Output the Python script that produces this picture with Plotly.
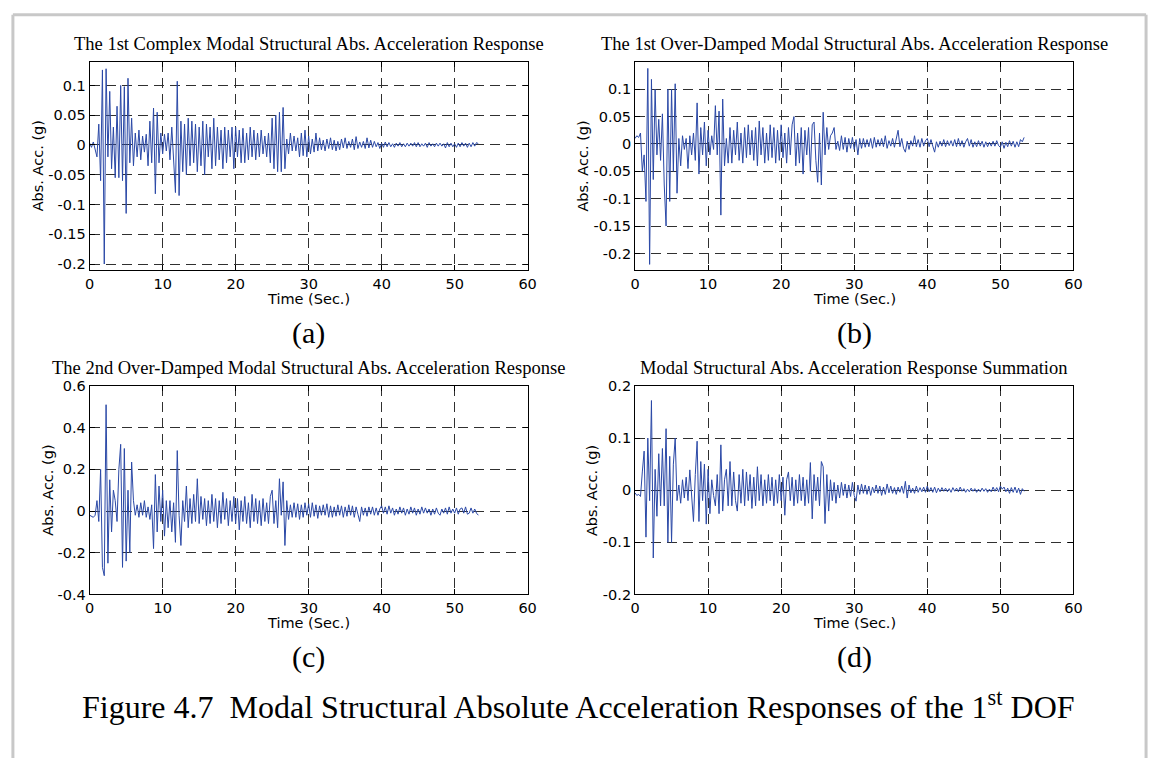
import numpy as np
import plotly.graph_objects as go

# sampling step of the digitised records (seconds)
DT = 0.25

# ---- (a) 1st complex modal response, values read per 0.25 s (4 per second)
acc_a = [
    0.003, -0.004, 0.005, -0.006,
    -0.02, 0.035, -0.06, 0.126,
    -0.2, 0.128, -0.02, 0.09,
    -0.04, 0.03, -0.055, 0.065,
    -0.055, 0.1, -0.06, 0.098,
    -0.115, 0.112, -0.03, 0.045,
    -0.035, 0.02, -0.02, 0.025,
    -0.025, 0.015, -0.012, 0.018,
    -0.035, 0.04, -0.03, 0.062,
    -0.082, 0.055, -0.03, 0.02,
    -0.015, 0.018, -0.01, 0.02,
    -0.025, 0.03, -0.02, -0.08,
    0.107, -0.085, 0.04, -0.045,
    0.035, -0.05, 0.045, -0.035,
    0.04, -0.03, 0.035, -0.045,
    0.03, -0.035, 0.04, -0.05,
    0.035, -0.02, 0.03, -0.04,
    0.045, -0.035, 0.03, -0.025,
    0.025, -0.04, 0.03, -0.03,
    0.025, -0.02, 0.03, -0.04,
    0.03, -0.02, 0.025, -0.03,
    0.028, -0.03, 0.02, -0.025,
    0.03, -0.02, 0.025, -0.025,
    0.02, -0.02, 0.025, -0.015,
    0.015, -0.02, 0.02, -0.03,
    0.045, -0.04, 0.05, -0.045,
    0.055, -0.045, 0.063, -0.04,
    0.01, -0.015, 0.02, -0.01,
    0.015, -0.01, 0.012, -0.02,
    0.02, -0.018, 0.025, -0.02,
    0.015, -0.015, 0.01, -0.012,
    0.02, -0.01, 0.012, -0.008,
    0.008, -0.01, 0.01, -0.006,
    0.012, -0.008, 0.008, -0.01,
    0.006, -0.008, 0.01, -0.005,
    0.012, -0.006, 0.006, -0.004,
    0.01, -0.008, 0.014, -0.006,
    0.005, -0.004, 0.006, -0.006,
    0.012, -0.005, 0.008, -0.004,
    0.006, -0.003, 0.004, -0.006,
    0.003, -0.004, 0.005, -0.003,
    0.004, -0.003, 0.002, -0.004,
    0.003, -0.002, 0.004, -0.003,
    0.002, -0.003, 0.003, -0.002,
    0.003, -0.002, 0.004, -0.003,
    0.004, -0.003, 0.002, -0.002,
    0.003, -0.004, 0.004, -0.002,
    0.002, -0.003, 0.003, -0.002,
    0.003, -0.002, 0.002, -0.005,
    0.004, -0.003, 0.003, -0.003,
    0.002, -0.004, 0.003, -0.003,
    0.004, -0.002, 0.003, -0.004,
    0.003, -0.003, 0.004, -0.002,
    0.004, 0.002,
]

# ---- (b) 1st over-damped modal response
acc_b = [
    0.01, 0.015, 0.012, 0.02,
    -0.05, -0.02, -0.105, 0.138,
    -0.22, 0.118, -0.065, 0.1,
    -0.02, 0.045, -0.03, 0.055,
    -0.075, -0.15, 0.1, -0.105,
    0.1, -0.05, 0.11, -0.09,
    0.01, -0.04, 0.015, -0.01,
    0.01, -0.045, 0.015, -0.02,
    0.02, -0.03, 0.075, -0.055,
    0.03, -0.02, 0.04, -0.04,
    0.025, -0.02, 0.015, -0.01,
    0.07, -0.02, 0.06, -0.13,
    0.082, -0.04, 0.01, -0.035,
    0.03, -0.035, 0.025, -0.02,
    0.04, -0.03, 0.02, -0.035,
    0.03, -0.025, 0.035, -0.02,
    0.025, -0.03, 0.03, -0.04,
    0.042, -0.02, 0.03, -0.035,
    0.02, -0.03, 0.035, -0.025,
    0.03, -0.035, 0.025, -0.03,
    0.035, -0.025, 0.02, -0.035,
    0.03, -0.02, 0.035, 0.05,
    -0.04, 0.02, -0.035, 0.03,
    -0.055, 0.025, -0.02, 0.03,
    -0.05, 0.035, 0.04, -0.03,
    -0.07, 0.02, -0.075, 0.058,
    -0.02, 0.03, -0.01, 0.015,
    0.02, 0.03, -0.01, 0.005,
    -0.012, 0.015, -0.01, 0.012,
    -0.015, 0.01, -0.008, 0.012,
    -0.01, 0.008, -0.02, 0.01,
    -0.008, 0.01, -0.006, 0.008,
    -0.005, 0.01, -0.008, 0.012,
    -0.006, 0.008, -0.004, 0.01,
    -0.005, 0.015, -0.008, 0.006,
    -0.004, 0.01, -0.006, 0.008,
    0.025, -0.005, 0.01, -0.008,
    -0.015, 0.005, -0.01, 0.006,
    -0.004, 0.015, -0.005, 0.008,
    -0.006, 0.01, -0.004, 0.006,
    0.01, -0.005, 0.008, -0.004,
    -0.015, 0.004, -0.006, 0.005,
    -0.004, 0.008, -0.005, 0.006,
    -0.003, 0.006, -0.004, 0.008,
    -0.005, 0.01, -0.004, 0.006,
    -0.006, 0.004, 0.01, -0.004,
    0.008, -0.006, 0.004, -0.005,
    0.006, -0.004, 0.005, -0.006,
    0.004, -0.005, 0.003, -0.004,
    0.005, -0.004, 0.006, -0.003,
    -0.006, 0.004, -0.008, 0.003,
    -0.005, 0.006, -0.004, 0.005,
    -0.006, 0.004, -0.005, 0.008,
    0.004, 0.012,
]

# ---- (c) 2nd over-damped modal response
acc_c = [
    -0.02, -0.025, -0.03, -0.02,
    0.05, -0.05, 0.2, -0.27,
    -0.31, 0.51, -0.25, 0.15,
    -0.1, 0.1, 0.05, -0.05,
    0.2, 0.32, -0.27, 0.3,
    -0.24, 0.1, -0.2, 0.235,
    0.05, -0.02, 0.03, -0.03,
    0.04, -0.02, 0.05, -0.03,
    0.02, -0.04, 0.03, -0.18,
    0.175, -0.1, 0.12, -0.05,
    0.1, -0.12, 0.05, -0.08,
    0.05, -0.1, 0.04, -0.15,
    0.29, -0.02, -0.165, 0.05,
    -0.05, 0.12, -0.08, 0.06,
    -0.06, 0.08, -0.05, 0.155,
    -0.06, 0.07, -0.04, 0.06,
    -0.07, 0.05, -0.06, 0.08,
    -0.05, 0.06, -0.08, 0.05,
    -0.06, 0.09, -0.04, 0.06,
    -0.07, 0.05, -0.05, 0.07,
    -0.06, 0.06, -0.09, 0.05,
    -0.05, 0.07, -0.06, 0.04,
    -0.08, 0.08, -0.05, 0.06,
    -0.06, 0.05, -0.07, 0.06,
    -0.05, 0.04, -0.06, 0.07,
    0.1, -0.06, 0.05, -0.08,
    0.155, -0.02, 0.14, -0.165,
    0.05, -0.04, 0.03, -0.03,
    0.04, -0.03, 0.035, -0.04,
    0.03, -0.03, 0.04, -0.02,
    0.035, -0.03, 0.04, -0.025,
    0.03, -0.035, 0.025, -0.02,
    0.03, -0.02, 0.035, -0.03,
    0.025, -0.03, 0.02, -0.025,
    0.03, -0.02, 0.025, -0.03,
    0.02, -0.025, 0.03, -0.02,
    0.025, -0.03, 0.02, -0.015,
    -0.05, 0.02, -0.02, 0.015,
    -0.025, 0.02, -0.015, 0.02,
    -0.02, 0.015, -0.02, 0.01,
    0.025, -0.01, 0.02, -0.015,
    0.025, -0.01, 0.015, -0.02,
    0.01, -0.015, 0.02, -0.01,
    0.015, -0.02, 0.01, -0.015,
    0.02, -0.01, 0.015, -0.02,
    0.01, -0.015, 0.02, -0.01,
    0.015, -0.01, 0.01, -0.02,
    0.01, -0.015, 0.015, -0.01,
    -0.02, 0.01, -0.01, 0.015,
    -0.015, 0.02, -0.01, 0.01,
    -0.01, 0.015, -0.015, 0.01,
    0.015, -0.01, 0.02, -0.015,
    -0.01, 0.015, -0.01, 0.01,
    -0.01, -0.02,
]

# ---- (d) summation of modal responses
acc_d = [
    -0.005, -0.01, -0.008, -0.012,
    0.035, 0.075, -0.09, 0.1,
    -0.02, 0.172, -0.13, 0.04,
    -0.05, 0.07, -0.03, 0.08,
    -0.03, 0.118, -0.1, 0.065,
    -0.1, 0.05, 0.1, -0.02,
    0.01, -0.025, 0.02, -0.015,
    0.025, -0.02, 0.039, -0.015,
    -0.06, 0.03, 0.094, -0.06,
    0.055, -0.02, 0.05, -0.065,
    0.04, -0.045, 0.02, -0.01,
    -0.03, 0.03, -0.045, 0.087,
    -0.04, 0.02, 0.04, -0.03,
    0.055, -0.03, 0.035, -0.02,
    -0.04, 0.03, -0.025, 0.04,
    -0.03, 0.035, -0.02, 0.03,
    -0.035, 0.025, -0.03, 0.045,
    -0.02, 0.03, -0.03, 0.02,
    -0.025, 0.03, -0.02, 0.025,
    -0.03, 0.02, -0.025, 0.03,
    -0.02, 0.025, -0.048, 0.02,
    0.035, -0.02, 0.025, -0.03,
    0.02, -0.025, 0.03, -0.02,
    0.025, -0.03, 0.02, -0.025,
    0.053, -0.055, 0.03, -0.02,
    0.025, -0.03, 0.055, 0.045,
    -0.064, 0.03, -0.04, 0.02,
    -0.02, 0.015, -0.025, 0.01,
    -0.015, 0.015, -0.01, 0.012,
    -0.015, 0.01, -0.012, 0.015,
    -0.01, -0.021, 0.01, -0.008,
    0.012, -0.006, 0.01, -0.008,
    0.008, -0.01, 0.006, -0.005,
    0.01, -0.006, 0.008, -0.01,
    0.006, -0.008, 0.012, -0.005,
    0.008, -0.006, 0.005, -0.008,
    0.006, -0.004, 0.008, -0.006,
    0.017, -0.015, 0.01, -0.005,
    0.004, -0.006, 0.008, -0.004,
    0.005, -0.003, 0.006, -0.004,
    0.008, -0.003, 0.005, -0.004,
    0.006, -0.005, 0.004, -0.003,
    0.005, -0.002, 0.004, -0.003,
    0.003, -0.004, 0.005, -0.002,
    0.004, -0.003, 0.006, -0.002,
    0.003, -0.004, 0.002, -0.003,
    0.004, -0.002, 0.003, -0.004,
    0.002, -0.003, 0.004, -0.002,
    0.003, -0.004, 0.002, -0.003,
    0.006, -0.002, 0.005, -0.003,
    0.008, 0.002, 0.006, -0.003,
    0.004, -0.006, 0.005, -0.004,
    0.006, -0.005, 0.004, -0.008,
    0.003, -0.002,
]

titles = [
    "The 1st Complex Modal Structural Abs. Acceleration Response",
    "The 1st Over-Damped Modal Structural Abs. Acceleration Response",
    "The 2nd Over-Damped Modal Structural Abs. Acceleration Response",
    "Modal Structural Abs. Acceleration Response Summation",
]
tags = ["(a)", "(b)", "(c)", "(d)"]
x_ticks = [0, 10, 20, 30, 40, 50, 60]
y_ticks_ab = [-0.2, -0.15, -0.1, -0.05, 0, 0.05, 0.1]
y_ticks_ab_txt = ["-0.2", "-0.15", "-0.1", "-0.05", "0", "0.05", "0.1"]
y_ticks_c = [-0.4, -0.2, 0, 0.2, 0.4, 0.6]
y_ticks_c_txt = ["-0.4", "-0.2", "0", "0.2", "0.4", "0.6"]
y_ticks_d = [-0.2, -0.1, 0, 0.1, 0.2]
y_ticks_d_txt = ["-0.2", "-0.1", "0", "0.1", "0.2"]
caption = "Figure 4.7\u00a0 Modal Structural Absolute Acceleration Responses of the 1<sup>st</sup> DOF"

W, H = 1161, 766
def fx(px):
    return px / W
def fy(py):
    return 1 - py / H

SERIF = "Times New Roman, Liberation Serif, serif"
SANS = "DejaVu Sans, Arial, sans-serif"
LINE = "#2a48a6"
AX_FS = 14.5

panels = [
    dict(vals=acc_a, x0=85.7, x1=529.0, y0=55, y1=268, yr=[-0.2107, 0.1396],
         yt=y_ticks_ab, ytt=y_ticks_ab_txt, ylx=33.6),
    dict(vals=acc_b, x0=637.7, x1=1081.5, y0=55, y1=268, yr=[-0.231, 0.150],
         yt=y_ticks_ab, ytt=y_ticks_ab_txt, ylx=585.5),
    dict(vals=acc_c, x0=85.7, x1=529.0, y0=386, y1=599, yr=[-0.4, 0.6],
         yt=y_ticks_c, ytt=y_ticks_c_txt, ylx=44.0),
    dict(vals=acc_d, x0=637.7, x1=1081.5, y0=386, y1=599, yr=[-0.2, 0.2],
         yt=y_ticks_d, ytt=y_ticks_d_txt, ylx=594.0),
]

fig = go.Figure()
layout = dict(width=W, height=H, margin=dict(l=0, r=0, t=0, b=0),
              paper_bgcolor="white", plot_bgcolor="white", showlegend=False)
annotations = []
common = dict(showline=True, linecolor="black", linewidth=1, mirror="ticks",
              ticks="inside", ticklen=5, tickcolor="black", tickwidth=1,
              showgrid=True, gridcolor="#303030", gridwidth=1, griddash="10px,6px",
              zeroline=False, tickfont=dict(family=SANS, size=AX_FS, color="black"))

for i, p in enumerate(panels):
    n = i + 1
    sx = "" if n == 1 else str(n)
    t = np.arange(len(p["vals"])) * DT
    fig.add_trace(go.Scatter(x=t, y=p["vals"], mode="lines",
                             line=dict(color=LINE, width=1),
                             xaxis="x" + sx, yaxis="y" + sx, hoverinfo="skip"))
    layout["xaxis" + sx] = dict(common, domain=[fx(p["x0"]), fx(p["x1"])],
                                anchor="y" + sx, range=[0, 60],
                                tickvals=x_ticks, ticktext=[str(v) for v in x_ticks])
    layout["yaxis" + sx] = dict(common, domain=[fy(p["y1"]), fy(p["y0"])],
                                anchor="x" + sx, range=p["yr"],
                                tickvals=p["yt"], ticktext=p["ytt"])
    cx = (p["x0"] + p["x1"]) / 2
    # panel title
    annotations.append(dict(text=titles[i], x=fx(cx), y=fy(p["y0"] - 18.5),
                            xref="paper", yref="paper", showarrow=False,
                            xanchor="center", yanchor="middle",
                            font=dict(family=SERIF, size=18.5, color="black")))
    # x axis label
    annotations.append(dict(text="Time (Sec.)", x=fx(cx), y=fy(p["y1"] + 29),
                            xref="paper", yref="paper", showarrow=False,
                            xanchor="center", yanchor="middle",
                            font=dict(family=SANS, size=AX_FS, color="black")))
    # y axis label
    annotations.append(dict(text="Abs. Acc. (g)", x=fx(p["ylx"]),
                            y=fy((p["y0"] + p["y1"]) / 2),
                            xref="paper", yref="paper", showarrow=False,
                            textangle=-90, xanchor="center", yanchor="middle",
                            font=dict(family=SANS, size=AX_FS, color="black")))
    # sub-figure tag
    annotations.append(dict(text=tags[i], x=fx(cx), y=fy(p["y1"] + 64),
                            xref="paper", yref="paper", showarrow=False,
                            xanchor="center", yanchor="middle",
                            font=dict(family=SERIF, size=30, color="black")))

annotations.append(dict(text=caption, x=fx(581), y=fy(712), xref="paper", yref="paper",
                        showarrow=False, xanchor="center", yanchor="middle",
                        font=dict(family=SERIF, size=32, color="black")))

border = dict(color="#c8c8c8", width=3)
shapes = [
    dict(type="line", xref="paper", yref="paper", x0=fx(8), x1=fx(1155), y0=fy(7), y1=fy(7), line=border),
    dict(type="line", xref="paper", yref="paper", x0=fx(8), x1=fx(8), y0=fy(7), y1=fy(766), line=border),
    dict(type="line", xref="paper", yref="paper", x0=fx(1155), x1=fx(1155), y0=fy(7), y1=fy(766), line=border),
]
layout["annotations"] = annotations
layout["shapes"] = shapes
fig.update_layout(**layout)
fig.write_html("out.html")
